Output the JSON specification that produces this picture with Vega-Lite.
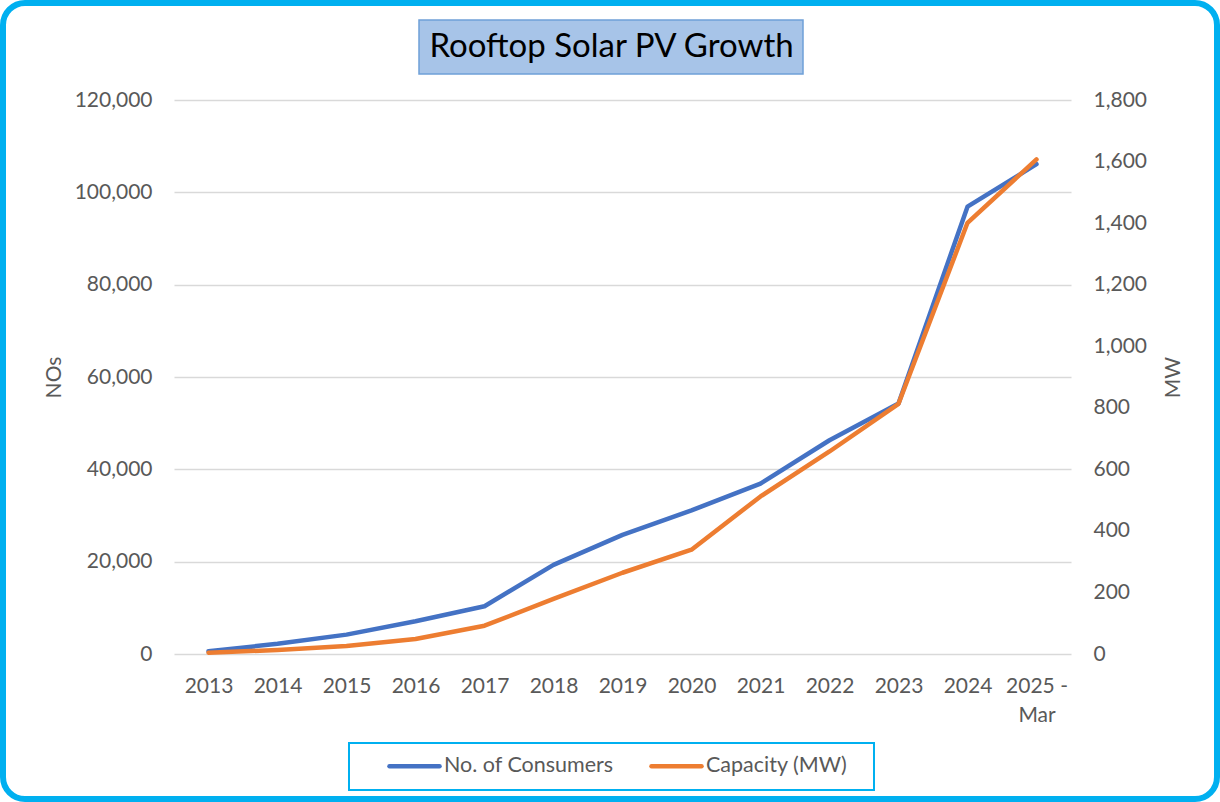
{
  "$schema": "https://vega.github.io/schema/vega-lite/v6.json",
  "width": 897,
  "height": 554,
  "autosize": {"type": "none"},
  "padding": {"left": 174, "top": 100, "right": 149, "bottom": 148},
  "background": "white",
  "title": {
    "text": "Rooftop Solar PV Growth",
    "font": "Lato",
    "fontSize": 33,
    "fontWeight": "normal",
    "color": "#000000",
    "anchor": "middle",
    "frame": "group",
    "baseline": "alphabetic",
    "dx": -11,
    "offset": -90
  },
  "datasets": {
    "growth": [
      {"year": "2013", "series": "No. of Consumers", "value": 600},
      {"year": "2014", "series": "No. of Consumers", "value": 2200},
      {"year": "2015", "series": "No. of Consumers", "value": 4200},
      {"year": "2016", "series": "No. of Consumers", "value": 7100},
      {"year": "2017", "series": "No. of Consumers", "value": 10350},
      {"year": "2018", "series": "No. of Consumers", "value": 19300},
      {"year": "2019", "series": "No. of Consumers", "value": 25800},
      {"year": "2020", "series": "No. of Consumers", "value": 31100},
      {"year": "2021", "series": "No. of Consumers", "value": 36900},
      {"year": "2022", "series": "No. of Consumers", "value": 46300},
      {"year": "2023", "series": "No. of Consumers", "value": 54250},
      {"year": "2024", "series": "No. of Consumers", "value": 96900},
      {"year": "2025 - Mar", "series": "No. of Consumers", "value": 106100},
      {"year": "2013", "series": "Capacity (MW)", "value": 4},
      {"year": "2014", "series": "Capacity (MW)", "value": 13},
      {"year": "2015", "series": "Capacity (MW)", "value": 26},
      {"year": "2016", "series": "Capacity (MW)", "value": 49},
      {"year": "2017", "series": "Capacity (MW)", "value": 92},
      {"year": "2018", "series": "Capacity (MW)", "value": 179},
      {"year": "2019", "series": "Capacity (MW)", "value": 264},
      {"year": "2020", "series": "Capacity (MW)", "value": 339},
      {"year": "2021", "series": "Capacity (MW)", "value": 512},
      {"year": "2022", "series": "Capacity (MW)", "value": 658},
      {"year": "2023", "series": "Capacity (MW)", "value": 813},
      {"year": "2024", "series": "Capacity (MW)", "value": 1401},
      {"year": "2025 - Mar", "series": "Capacity (MW)", "value": 1607}
    ],
    "frame": [{"part": "frame"}]
  },
  "layer": [
    {
      "data": {"name": "frame"},
      "mark": {"type": "rect", "fill": "transparent", "stroke": "#00B0F0", "strokeWidth": 6, "cornerRadius": 22},
      "encoding": {
        "x": {"value": -171},
        "x2": {"value": 1043},
        "y": {"value": -97},
        "y2": {"value": 699}
      }
    },
    {
      "data": {"name": "frame"},
      "mark": {
        "type": "rect",
        "fill": "#A7C4E8",
        "stroke": "#6FA0D8",
        "strokeWidth": 1.5
      },
      "encoding": {
        "x": {"value": 245},
        "x2": {"value": 629},
        "y": {"value": -80},
        "y2": {"value": -26}
      }
    },
    {
      "data": {"name": "growth"},
      "transform": [{"filter": "datum.series === 'No. of Consumers'"}],
      "mark": {"type": "line", "strokeWidth": 4.5, "strokeCap": "round", "strokeJoin": "round"},
      "encoding": {
        "x": {
          "field": "year", "type": "ordinal",
          "sort": ["2013","2014","2015","2016","2017","2018","2019","2020","2021","2022","2023","2024","2025 - Mar"],
          "scale": {"type": "point", "padding": 0.5},
          "axis": {
            "title": null,
            "labelAngle": 0,
            "ticks": false,
            "domain": false,
            "grid": false,
            "labelPadding": 21,
            "labelLineHeight": 29,
            "labelExpr": "datum.label == '2025 - Mar' ? ['2025 -', 'Mar'] : datum.label"
          }
        },
        "y": {
          "field": "value", "type": "quantitative",
          "scale": {"domain": [0, 120000], "nice": false, "zero": true},
          "axis": {
            "orient": "left",
            "title": "NOs",
            "values": [0, 20000, 40000, 60000, 80000, 100000, 120000],
            "format": ",.0f",
            "grid": true,
            "ticks": false,
            "domain": false,
            "labelPadding": 22,
            "titlePadding": 10,
            "titleAngle": -90
          }
        },
        "color": {
          "field": "series", "type": "nominal",
          "scale": {"domain": ["No. of Consumers", "Capacity (MW)"], "range": ["#4472C4", "#ED7D31"]},
          "legend": {
            "title": " ",
            "titleOrient": "right",
            "titlePadding": 14,
            "titleFontSize": 2,
            "orient": "none",
            "legendX": 175,
            "legendY": 643,
            "direction": "horizontal",
            "symbolType": "stroke",
            "symbolSize": 2500,
            "symbolStrokeWidth": 4.5,
            "clipHeight": 20,
            "labelFont": "Lato",
            "labelFontSize": 21.5,
            "labelLimit": 400,
            "labelColor": "#595959",
            "labelOffset": 2,
            "symbolOffset": 25,
            "columnPadding": 10,
            "padding": 13,
            "strokeColor": "#00B0F0",
            "fillColor": "white",
            "encode": {
              "symbols": {"update": {"strokeCap": {"value": "round"}}}
            }
          }
        }
      }
    },
    {
      "data": {"name": "growth"},
      "transform": [{"filter": "datum.series === 'Capacity (MW)'"}],
      "mark": {"type": "line", "strokeWidth": 4.5, "strokeCap": "round", "strokeJoin": "round"},
      "encoding": {
        "x": {
          "field": "year", "type": "ordinal",
          "sort": ["2013","2014","2015","2016","2017","2018","2019","2020","2021","2022","2023","2024","2025 - Mar"],
          "scale": {"type": "point", "padding": 0.5}
        },
        "y": {
          "field": "value", "type": "quantitative",
          "scale": {"domain": [0, 1800], "nice": false, "zero": true},
          "axis": {
            "orient": "right",
            "title": "MW",
            "values": [0, 200, 400, 600, 800, 1000, 1200, 1400, 1600, 1800],
            "format": ",.0f",
            "grid": false,
            "ticks": false,
            "domain": false,
            "labelPadding": 22,
            "titlePadding": 16,
            "titleAngle": -90,
            "titleBaseline": "top"
          }
        },
        "color": {
          "field": "series", "type": "nominal",
          "scale": {"domain": ["No. of Consumers", "Capacity (MW)"], "range": ["#4472C4", "#ED7D31"]}
        }
      }
    }
  ],
  "resolve": {"scale": {"y": "independent"}},
  "config": {
    "view": {"stroke": null},
    "legend": {"strokeWidth": 2},
    "axis": {
      "labelFont": "Lato",
      "labelFontSize": 21,
      "labelColor": "#595959",
      "titleFont": "Lato",
      "titleFontSize": 21,
      "titleFontWeight": "normal",
      "titleColor": "#595959",
      "gridColor": "#D9D9D9",
      "gridWidth": 1.5
    }
  }
}
